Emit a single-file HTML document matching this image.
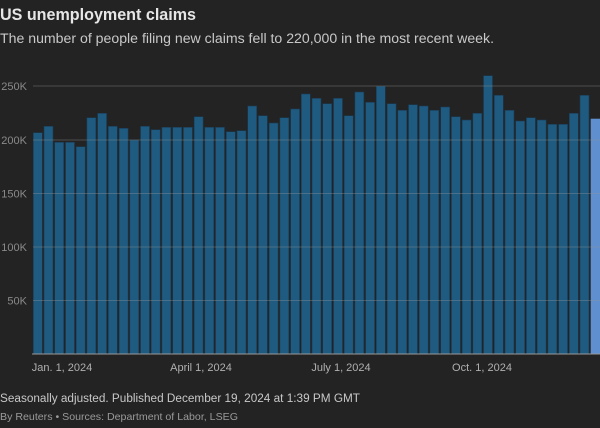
<!DOCTYPE html>
<html><head><meta charset="utf-8"><style>
body{margin:0;background:#232323;width:600px;height:423px;overflow:hidden;font-family:"Liberation Sans",sans-serif;}
</style></head><body>
<svg width="600" height="423" xmlns="http://www.w3.org/2000/svg" font-family="Liberation Sans, sans-serif">
<rect width="600" height="423" fill="#232323"/>
<text x="0" y="20" fill="#e6e6e6" font-size="17" font-weight="bold" textLength="196" lengthAdjust="spacingAndGlyphs">US unemployment claims</text>
<text x="0" y="43" fill="#c8c8c8" font-size="13.5" textLength="494" lengthAdjust="spacingAndGlyphs">The number of people filing new claims fell to 220,000 in the most recent week.</text>
<g fill="#1f5b80" stroke="#1a3a50" stroke-width="0.6">
<rect x="33.3" y="132.7" width="9" height="221.3"/>
<rect x="44.0" y="126.3" width="9" height="227.7"/>
<rect x="54.7" y="142.3" width="9" height="211.7"/>
<rect x="65.5" y="142.3" width="9" height="211.7"/>
<rect x="76.2" y="146.7" width="9" height="207.3"/>
<rect x="86.9" y="117.7" width="9" height="236.3"/>
<rect x="97.6" y="113.3" width="9" height="240.7"/>
<rect x="108.3" y="126.3" width="9" height="227.7"/>
<rect x="119.1" y="128.3" width="9" height="225.7"/>
<rect x="129.8" y="140" width="9" height="214"/>
<rect x="140.5" y="126.3" width="9" height="227.7"/>
<rect x="151.2" y="129.7" width="9" height="224.3"/>
<rect x="161.9" y="127.3" width="9" height="226.7"/>
<rect x="172.7" y="127.3" width="9" height="226.7"/>
<rect x="183.4" y="127.3" width="9" height="226.7"/>
<rect x="194.1" y="116.7" width="9" height="237.3"/>
<rect x="204.8" y="127.3" width="9" height="226.7"/>
<rect x="215.5" y="127.3" width="9" height="226.7"/>
<rect x="226.3" y="131.7" width="9" height="222.3"/>
<rect x="237.0" y="130.7" width="9" height="223.3"/>
<rect x="247.7" y="106" width="9" height="248"/>
<rect x="258.4" y="115.7" width="9" height="238.3"/>
<rect x="269.1" y="123" width="9" height="231"/>
<rect x="279.9" y="117.7" width="9" height="236.3"/>
<rect x="290.6" y="109" width="9" height="245"/>
<rect x="301.3" y="94" width="9" height="260"/>
<rect x="312.0" y="98.3" width="9" height="255.7"/>
<rect x="322.7" y="103.7" width="9" height="250.3"/>
<rect x="333.5" y="98.3" width="9" height="255.7"/>
<rect x="344.2" y="115.7" width="9" height="238.3"/>
<rect x="354.9" y="92" width="9" height="262"/>
<rect x="365.6" y="102.3" width="9" height="251.7"/>
<rect x="376.3" y="86.3" width="9" height="267.7"/>
<rect x="387.1" y="103.7" width="9" height="250.3"/>
<rect x="397.8" y="110.3" width="9" height="243.7"/>
<rect x="408.5" y="104.7" width="9" height="249.3"/>
<rect x="419.2" y="106" width="9" height="248"/>
<rect x="429.9" y="110.3" width="9" height="243.7"/>
<rect x="440.7" y="107" width="9" height="247"/>
<rect x="451.4" y="116.7" width="9" height="237.3"/>
<rect x="462.1" y="120" width="9" height="234"/>
<rect x="472.8" y="113.3" width="9" height="240.7"/>
<rect x="483.5" y="75.7" width="9" height="278.3"/>
<rect x="494.3" y="95.3" width="9" height="258.7"/>
<rect x="505.0" y="110.3" width="9" height="243.7"/>
<rect x="515.7" y="121" width="9" height="233"/>
<rect x="526.4" y="117.7" width="9" height="236.3"/>
<rect x="537.1" y="120" width="9" height="234"/>
<rect x="547.9" y="124.3" width="9" height="229.7"/>
<rect x="558.6" y="124.3" width="9" height="229.7"/>
<rect x="569.3" y="113.3" width="9" height="240.7"/>
<rect x="580.0" y="95.3" width="9" height="258.7"/>
</g>
<rect x="590.7" y="118.7" width="9.3" height="235.3" fill="#5f8fce"/>
<g stroke="#9a9a9a" stroke-width="1" opacity="0.35">
<line x1="33" y1="86" x2="600" y2="86"/>
<line x1="33" y1="140" x2="600" y2="140"/>
<line x1="33" y1="193.5" x2="600" y2="193.5"/>
<line x1="33" y1="247" x2="600" y2="247"/>
<line x1="33" y1="300.5" x2="600" y2="300.5"/>
</g>
<line x1="32" y1="354" x2="600" y2="354" stroke="#9a9a9a" stroke-width="1"/>
<g fill="#8a8a8a" font-size="11" text-anchor="end">
<text x="27" y="90">250K</text>
<text x="27" y="144">200K</text>
<text x="27" y="197.5">150K</text>
<text x="27" y="251">100K</text>
<text x="27" y="304.5">50K</text>
</g>
<g fill="#b0b0b0" font-size="11" text-anchor="middle">
<text x="62" y="371">Jan. 1, 2024</text>
<text x="201" y="371">April 1, 2024</text>
<text x="341" y="371">July 1, 2024</text>
<text x="482" y="371">Oct. 1, 2024</text>
</g>
<text x="0" y="402" fill="#c8c8c8" font-size="11.5" textLength="360" lengthAdjust="spacingAndGlyphs">Seasonally adjusted. Published December 19, 2024 at 1:39 PM GMT</text>
<text x="0" y="420" fill="#9a9a9a" font-size="10.5" textLength="238" lengthAdjust="spacingAndGlyphs">By Reuters • Sources: Department of Labor, LSEG</text>
</svg>
</body></html>
